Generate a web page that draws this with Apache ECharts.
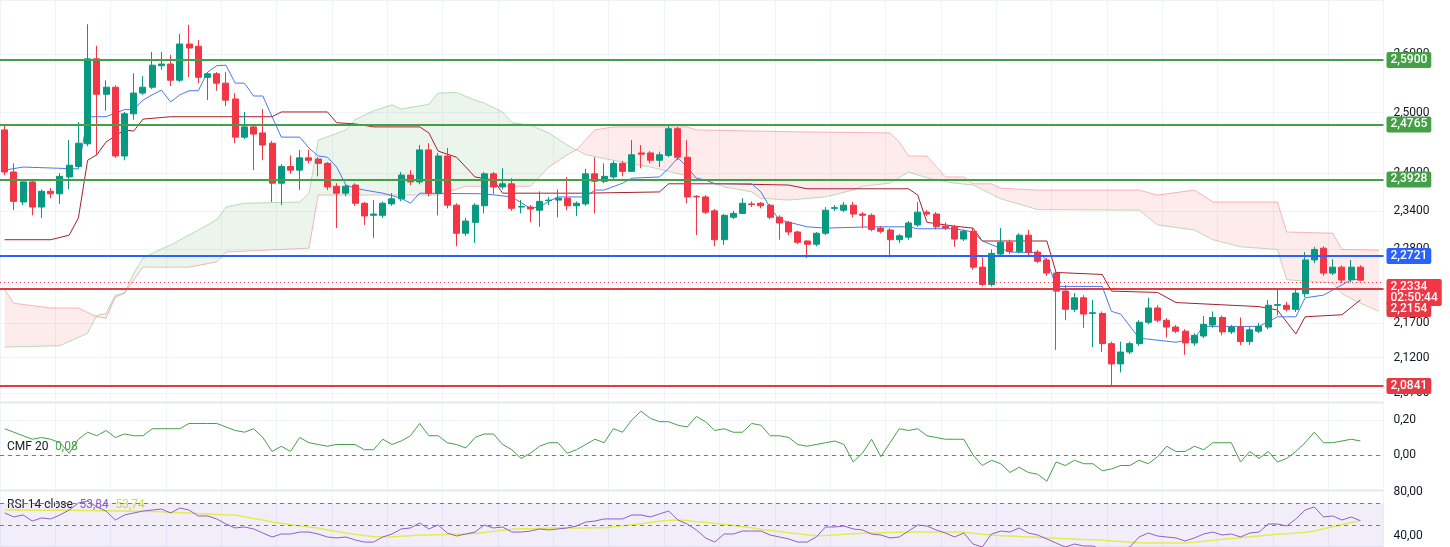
<!DOCTYPE html>
<html><head><meta charset="utf-8">
<script src="https://cdn.jsdelivr.net/npm/echarts@6/dist/echarts.min.js"></script>
<style>html,body{margin:0;padding:0;background:#fff}#c{width:1450px;height:547px}</style>
</head><body><div id="c"></div>
<script>
const openP=[2.471,2.402,2.354,2.386,2.346,2.371,2.367,2.394,2.411,2.448,2.592,2.531,2.543,2.428,2.498,2.533,2.543,2.580,2.583,2.555,2.618,2.614,2.560,2.566,2.550,2.523,2.459,2.476,2.466,2.449,2.384,2.411,2.405,2.425,2.423,2.416,2.379,2.368,2.381,2.352,2.333,2.333,2.351,2.359,2.397,2.386,2.438,2.368,2.428,2.349,2.305,2.322,2.348,2.399,2.378,2.383,2.346,2.346,2.341,2.356,2.357,2.360,2.348,2.351,2.399,2.387,2.394,2.416,2.403,2.433,2.433,2.421,2.429,2.473,2.426,2.363,2.362,2.340,2.295,2.330,2.336,2.351,2.352,2.349,2.330,2.322,2.307,2.293,2.288,2.305,2.344,2.341,2.349,2.335,2.333,2.313,2.310,2.295,2.299,2.318,2.338,2.335,2.316,2.315,2.296,2.308,2.253,2.227,2.273,2.291,2.277,2.302,2.276,2.264,2.244,2.217,2.190,2.207,2.184,2.184,2.140,2.111,2.128,2.140,2.171,2.192,2.174,2.164,2.158,2.141,2.151,2.167,2.178,2.157,2.164,2.143,2.158,2.164,2.196,2.196,2.190,2.213,2.264,2.282,2.244,2.253,2.234,2.253];
const closeP=[2.402,2.355,2.386,2.346,2.371,2.367,2.395,2.413,2.449,2.592,2.531,2.543,2.428,2.498,2.533,2.543,2.581,2.583,2.555,2.618,2.611,2.560,2.566,2.550,2.521,2.459,2.476,2.464,2.446,2.384,2.411,2.405,2.425,2.421,2.416,2.378,2.368,2.379,2.352,2.332,2.335,2.352,2.359,2.397,2.386,2.438,2.368,2.428,2.349,2.305,2.324,2.349,2.399,2.378,2.383,2.344,2.347,2.343,2.355,2.357,2.360,2.348,2.352,2.399,2.387,2.395,2.416,2.403,2.430,2.431,2.421,2.430,2.473,2.426,2.362,2.362,2.338,2.295,2.333,2.336,2.352,2.350,2.348,2.330,2.321,2.307,2.291,2.288,2.305,2.341,2.345,2.349,2.335,2.333,2.311,2.308,2.295,2.301,2.321,2.338,2.335,2.315,2.313,2.296,2.308,2.253,2.227,2.274,2.291,2.277,2.302,2.276,2.262,2.244,2.217,2.190,2.207,2.183,2.185,2.140,2.111,2.128,2.140,2.171,2.192,2.174,2.164,2.158,2.141,2.152,2.168,2.178,2.157,2.164,2.143,2.160,2.165,2.196,2.197,2.190,2.214,2.264,2.280,2.244,2.253,2.2335,2.253,2.2334];
const lowP=[2.397,2.341,2.349,2.333,2.329,2.360,2.351,2.374,2.408,2.444,2.429,2.503,2.425,2.421,2.488,2.530,2.540,2.573,2.545,2.552,2.560,2.550,2.521,2.537,2.511,2.449,2.456,2.405,2.421,2.354,2.349,2.399,2.373,2.416,2.395,2.373,2.313,2.363,2.348,2.318,2.298,2.329,2.348,2.355,2.381,2.382,2.363,2.333,2.344,2.285,2.301,2.290,2.336,2.367,2.374,2.340,2.336,2.322,2.315,2.349,2.330,2.341,2.332,2.348,2.336,2.384,2.391,2.395,2.402,2.408,2.416,2.410,2.426,2.421,2.352,2.302,2.335,2.285,2.287,2.327,2.335,2.346,2.344,2.327,2.295,2.302,2.288,2.267,2.285,2.302,2.340,2.338,2.330,2.313,2.308,2.305,2.268,2.290,2.295,2.315,2.332,2.311,2.310,2.284,2.293,2.249,2.224,2.224,2.270,2.273,2.274,2.271,2.259,2.240,2.131,2.174,2.186,2.163,2.135,2.128,2.081,2.099,2.125,2.137,2.168,2.171,2.149,2.155,2.124,2.137,2.148,2.163,2.152,2.154,2.138,2.138,2.155,2.161,2.181,2.187,2.186,2.208,2.259,2.240,2.241,2.229,2.230,2.232];
const highP=[2.479,2.416,2.389,2.391,2.374,2.376,2.400,2.454,2.484,2.653,2.615,2.555,2.546,2.501,2.567,2.562,2.604,2.604,2.599,2.636,2.652,2.625,2.569,2.569,2.569,2.533,2.501,2.479,2.506,2.453,2.415,2.429,2.438,2.438,2.426,2.418,2.384,2.382,2.384,2.354,2.357,2.355,2.368,2.402,2.405,2.446,2.449,2.433,2.441,2.352,2.329,2.352,2.402,2.402,2.408,2.392,2.357,2.349,2.371,2.362,2.374,2.394,2.355,2.407,2.426,2.416,2.420,2.420,2.454,2.446,2.436,2.435,2.479,2.476,2.454,2.365,2.365,2.343,2.335,2.340,2.360,2.355,2.354,2.351,2.333,2.324,2.309,2.294,2.307,2.346,2.349,2.354,2.354,2.338,2.336,2.316,2.313,2.304,2.324,2.354,2.341,2.338,2.322,2.318,2.311,2.313,2.268,2.280,2.313,2.295,2.305,2.310,2.279,2.267,2.247,2.226,2.214,2.211,2.204,2.187,2.143,2.143,2.143,2.174,2.207,2.196,2.177,2.167,2.161,2.155,2.180,2.187,2.181,2.167,2.178,2.164,2.170,2.204,2.221,2.201,2.221,2.276,2.284,2.285,2.265,2.256,2.264,2.256];
const tenkan=[[0,2.405],[2,2.410],[8,2.407],[9,2.493],[11,2.493],[13,2.505],[14,2.505],[15,2.521],[16,2.530],[17,2.538],[18,2.518],[19,2.530],[20,2.537],[21,2.537],[22,2.569],[23,2.580],[24,2.581],[25,2.550],[26,2.550],[27,2.528],[28,2.528],[29,2.493],[30,2.459],[32,2.459],[33,2.441],[34,2.428],[35,2.426],[36,2.410],[37,2.381],[38,2.376],[39,2.373],[41,2.368],[43,2.360],[44,2.352],[45,2.368],[52,2.367],[55,2.362],[57,2.344],[58,2.346],[59,2.355],[60,2.362],[63,2.362],[64,2.373],[65,2.373],[67,2.384],[68,2.392],[71,2.394],[72,2.408],[73,2.425],[74,2.410],[75,2.392],[76,2.389],[77,2.383],[81,2.383],[82,2.370],[83,2.345],[84,2.326],[87,2.315],[89,2.313],[94,2.315],[98,2.315],[99,2.312],[103,2.312],[105,2.307],[106,2.293],[109,2.276],[112,2.275],[113,2.264],[114,2.224],[119,2.224],[120,2.187],[121,2.183],[123,2.148],[127,2.142],[129,2.148],[130,2.165],[136,2.165],[138,2.179],[140,2.179],[141,2.207],[143,2.211],[146,2.234],[147,2.235]];
const kijun=[[0,2.295],[5,2.295],[7,2.302],[8,2.329],[9,2.421],[10,2.430],[11,2.451],[13,2.471],[14,2.469],[15,2.489],[18,2.493],[29,2.493],[30,2.501],[35,2.501],[36,2.483],[38,2.481],[40,2.476],[45,2.476],[46,2.466],[47,2.436],[49,2.426],[51,2.394],[53,2.389],[54,2.368],[63,2.368],[71,2.370],[72,2.383],[78,2.383],[85,2.381],[87,2.375],[98,2.375],[99,2.365],[100,2.322],[103,2.316],[105,2.313],[106,2.293],[113,2.293],[114,2.245],[119,2.242],[120,2.217],[125,2.215],[127,2.200],[136,2.194],[138,2.189],[140,2.154],[141,2.179],[145,2.182],[147,2.204]];
const spanA=[[0,2.135],[6,2.137],[9,2.155],[10,2.181],[11,2.184],[12,2.211],[13,2.214],[14,2.244],[15,2.267],[16,2.274],[18,2.287],[21,2.310],[23,2.326],[24,2.346],[26,2.352],[32,2.354],[33,2.368],[34,2.454],[37,2.471],[38,2.488],[40,2.503],[42,2.513],[43,2.506],[46,2.514],[47,2.533],[49,2.534],[51,2.521],[52,2.516],[54,2.501],[55,2.483],[57,2.479],[59,2.466],[61,2.446],[62,2.438],[63,2.430],[66,2.421],[70,2.410],[72,2.403],[75,2.392],[76,2.389],[78,2.378],[81,2.370],[82,2.360],[85,2.357],[89,2.362],[92,2.373],[93,2.379],[96,2.384],[98,2.402],[99,2.397],[101,2.389],[103,2.384],[105,2.381],[108,2.359],[112,2.342],[123,2.341],[125,2.318],[129,2.310],[131,2.295],[134,2.284],[138,2.280],[139,2.234],[144,2.229],[145,2.213],[147,2.199],[149,2.187]];
const spanB=[[0,2.219],[1,2.199],[5,2.192],[8,2.192],[10,2.179],[11,2.177],[12,2.208],[13,2.214],[15,2.253],[20,2.253],[23,2.261],[24,2.276],[33,2.282],[34,2.365],[47,2.365],[50,2.379],[57,2.379],[59,2.410],[61,2.430],[62,2.438],[64,2.471],[66,2.476],[74,2.476],[75,2.471],[85,2.468],[96,2.466],[97,2.451],[98,2.428],[100,2.428],[102,2.394],[104,2.394],[105,2.383],[107,2.383],[108,2.376],[112,2.373],[123,2.373],[125,2.365],[129,2.373],[131,2.354],[138,2.354],[139,2.307],[144,2.305],[145,2.280],[149,2.279]];
const cloudParts=[[0,13,0],[13,62,1],[62,149,0]];
const cmf=[0.15,0.13,0.11,0.09,0.10,0.09,0.07,0.01,0.09,0.13,0.11,0.14,0.10,0.12,0.11,0.11,0.15,0.15,0.15,0.15,0.18,0.18,0.18,0.18,0.16,0.14,0.13,0.15,0.10,0.02,0.05,0.02,0.10,0.07,0.06,0.05,0.06,0.06,0.06,0.03,0.03,0.09,0.06,0.08,0.11,0.18,0.11,0.11,0.07,0.06,0.04,0.10,0.12,0.12,0.06,0.03,-0.02,0.01,0.05,0.07,0.07,0.01,0.03,0.06,0.09,0.07,0.15,0.13,0.20,0.25,0.21,0.19,0.19,0.17,0.16,0.22,0.19,0.14,0.15,0.13,0.13,0.18,0.17,0.11,0.11,0.10,0.06,0.05,0.06,0.07,0.08,0.06,-0.04,0.01,0.09,-0.01,0.07,0.15,0.14,0.15,0.11,0.10,0.09,0.09,0.09,0.00,-0.06,-0.03,-0.05,-0.10,-0.07,-0.10,-0.11,-0.15,-0.04,-0.06,-0.03,-0.05,-0.05,-0.09,-0.08,-0.06,-0.06,-0.03,-0.05,-0.01,0.05,0.02,0.02,0.05,0.03,0.07,0.07,0.07,-0.04,0.02,-0.02,0.02,-0.04,-0.02,0.02,0.07,0.13,0.07,0.07,0.08,0.09,0.08];
const rsi=[60.9,57.3,59.1,53.6,56.4,55.5,59.1,63.6,70,71.8,66.4,62.7,54.5,59.1,60.9,62.7,63.6,64.5,60.9,65.5,63.6,58.2,58.2,55.5,50.9,47.3,48.2,46.4,42.7,39.1,41.8,41.8,43.6,43.6,41.8,39.1,38.2,39.1,36.4,34.5,34.5,39.1,41.8,46.4,47.3,51.8,46.4,50,42.7,40,41.8,43.6,50,47.3,48.2,43.6,43.6,44.5,46.4,45.5,46.4,47.3,49.1,52.7,53.6,55.5,55.5,55.5,59.1,59.1,57.3,60,62.7,54.5,50.9,45.5,38.2,34.5,41.8,41.8,44.5,44.5,44.5,40.9,39.1,37.3,34.5,34.5,39.1,48.2,48.2,49.1,46.4,45.5,41.8,40.9,38.2,39.1,44.5,50,49.1,45.5,42.7,39.1,42.7,32.7,30,41.8,44.5,43.6,47.3,42.7,40.9,37.3,33.6,30,32.7,30.9,30.9,27.3,26.4,28.2,30,39.1,42.7,40,39.1,38.2,35.5,38.2,41.8,43.6,40.9,41.8,39.1,42.7,43.6,50.9,50.9,49.1,55.5,63.6,66.4,57.3,58.2,54.5,57.3,53.84];
const rsiMa=[63.6,63.6,63.5,63.5,63.4,63.4,63.3,63.3,63.2,63.1,63.0,62.9,62.8,62.7,62.6,62.5,62.3,62.0,61.6,61.2,60.8,60.4,60.0,59.6,59.3,59.1,57.5,56,54.5,52.7,51.5,50.3,49.2,48.2,47.2,45.5,44,42.7,41.5,40.5,39.6,39.1,39.3,39.8,40.3,40.8,41,41.2,41.4,41.6,41.8,42.3,43.2,44.2,45.2,46.2,46.5,46.7,46.9,47.1,47.3,47.3,47.3,47.3,47.4,47.5,48.3,49.2,50.2,51.2,52.2,53.3,54.2,54.5,54,53,52.5,51.5,50.5,49.5,48.5,47.5,46,45,44,43,42,41.2,40.3,40.5,41,41.5,42,42.5,42.7,42.9,43.1,43.3,43.5,43.6,43.6,43.6,43.6,43.6,43.5,42.5,41.5,40.8,40.2,39.9,39.5,39.2,38.8,38.3,38,37.6,37.2,36.8,36.5,36.1,35.5,34.9,34.3,33.8,33.6,33.6,33.6,33.6,33.8,34.4,35.3,36.2,37,37.8,38.5,39.3,40.1,40.9,41.5,42.1,42.8,43.5,44.5,46.5,48.5,50.5,52.3,53.74];
const priceTicks=[2.07,2.12,2.17,2.28,2.34,2.4,2.5,2.6];
const cmfTicks=[0,0.2];
const rsiTicks=[40,80];
const levels=[{v:2.59,t:'2,5900',c:'#43a047'},{v:2.4765,t:'2,4765',c:'#43a047'},{v:2.3928,t:'2,3928',c:'#43a047'},{v:2.2721,t:'2,2721',c:'#2962ff'},{v:2.2154,t:'2,2154',c:'#e53945',off:20},{v:2.0841,t:'2,0841',c:'#e53945'}];
const lastPrice=2.2334, timer='02:50:44';
const cmfLast='0,08', rsiLast='53,84', rsiMaLast='53,74';

const N=150;
const cats=[];for(let i=0;i<N;i++)cats.push(String(i));
const candles=openP.map((o,i)=>[o,closeP[i],lowP[i],highP[i]]);
const fmt=v=>v.toFixed(4).replace('.',',');
const fmt2=v=>v.toFixed(2).replace('.',',');
const grids=[{left:-4,width:1387.5,top:0,height:402},{left:-4,width:1387.5,top:403,height:87},{left:-4,width:1387.5,top:491,height:56}];
const xAx=i=>({type:'category',data:cats,gridIndex:i,boundaryGap:true,axisLine:{show:false},axisTick:{show:false},axisLabel:{show:false},splitLine:{show:true,interval:5,lineStyle:{color:'#f0f3fa'}}});
const lab={color:'#131722',fontSize:12,fontFamily:'Roboto, sans-serif',margin:10};
const chart=echarts.init(document.getElementById('c'),null,{renderer:'canvas'});
function cloudRender(params,api){
  const s=api.value(0),e=api.value(1),g=api.value(2);
  const a=spanA.filter(p=>p[0]>=s&&p[0]<=e).map(p=>api.coord(p));
  const b=spanB.filter(p=>p[0]>=s&&p[0]<=e).map(p=>api.coord(p)).reverse();
  return {type:'polygon',shape:{points:a.concat(b)},style:{fill:g?'rgba(67,160,71,0.1)':'rgba(242,54,69,0.1)'},silent:true};
}
const ml=[{yAxis:lastPrice,lineStyle:{color:'#f23645',width:1,type:[1,3]},label:{formatter:fmt(lastPrice)+'\n'+timer,backgroundColor:'#f23645',offset:[0,10],lineHeight:11.5,padding:[2,4]}}];
levels.forEach(l=>ml.push({yAxis:l.v,lineStyle:{color:l.c,width:2,type:'solid'},label:{formatter:l.t,backgroundColor:l.c,offset:[0,l.off||0]}}));
chart.setOption({
  animation:false,
  grid:grids.map((g,i)=>Object.assign({show:true,borderColor:'#e0e3eb',borderWidth:1,backgroundColor:'transparent'},g)),
  xAxis:[xAx(0),xAx(1),xAx(2)],
  yAxis:[
    {type:'log',logBase:10,gridIndex:0,min:2.0576,max:2.6967,position:'right',axisLine:{show:false},axisTick:{show:false,customValues:priceTicks},axisLabel:Object.assign({customValues:priceTicks,formatter:v=>fmt(v)},lab),splitLine:{show:true,lineStyle:{color:'#f0f3fa'}}},
    {type:'value',gridIndex:1,min:-0.2,max:0.297,position:'right',axisLine:{show:false},axisTick:{show:false,customValues:cmfTicks},axisLabel:Object.assign({customValues:cmfTicks,formatter:v=>fmt2(v)},lab),splitLine:{show:true,lineStyle:{color:'#f0f3fa'}}},
    {type:'value',gridIndex:2,min:30,max:80.9,position:'right',axisLine:{show:false},axisTick:{show:false,customValues:rsiTicks},axisLabel:Object.assign({customValues:rsiTicks,formatter:v=>fmt2(v)},lab),splitLine:{show:false}}
  ],
  series:[
    {type:'custom',xAxisIndex:0,yAxisIndex:0,renderItem:cloudRender,data:cloudParts,encode:{x:0,y:-1},z:1,silent:true,clip:true},
    {type:'line',data:spanA,xAxisIndex:0,yAxisIndex:0,showSymbol:false,lineStyle:{color:'rgba(67,160,71,0.35)',width:1},z:2,silent:true},
    {type:'line',data:spanB,xAxisIndex:0,yAxisIndex:0,showSymbol:false,lineStyle:{color:'rgba(242,54,69,0.35)',width:1},z:2,silent:true},
    {type:'line',data:kijun,xAxisIndex:0,yAxisIndex:0,showSymbol:false,lineStyle:{color:'#a3212a',width:1},z:3,silent:true},
    {type:'line',data:tenkan,xAxisIndex:0,yAxisIndex:0,showSymbol:false,lineStyle:{color:'#4a78ec',width:1},z:3,silent:true},
    {type:'candlestick',data:candles,xAxisIndex:0,yAxisIndex:0,barWidth:6.5,z:4,
      itemStyle:{color:'#089981',color0:'#f23645',borderColor:'#089981',borderColor0:'#f23645',borderWidth:1},
      markLine:{silent:true,symbol:'none',z:6,label:{position:'end',distance:3,color:'#fff',fontSize:12,fontFamily:'Roboto, sans-serif',fontWeight:500,padding:[2,4],borderRadius:2},data:ml}},
    {type:'line',data:cmf,xAxisIndex:1,yAxisIndex:1,showSymbol:false,lineStyle:{color:'#43a047',width:1},silent:true,
      markLine:{silent:true,symbol:'none',label:{show:false},lineStyle:{color:'#787b86',type:[4,4],width:1},data:[{yAxis:0}]}},
    {type:'line',data:rsiMa,xAxisIndex:2,yAxisIndex:2,showSymbol:false,lineStyle:{color:'#e3ec4f',width:1.5},silent:true},
    {type:'line',data:rsi,xAxisIndex:2,yAxisIndex:2,showSymbol:false,lineStyle:{color:'#8e5fc9',width:1},silent:true,
      markArea:{silent:true,itemStyle:{color:'rgba(126,87,194,0.1)'},data:[[{yAxis:30},{yAxis:70}]]},
      markLine:{silent:true,symbol:'none',label:{show:false},lineStyle:{color:'#787b86',type:[4,4],width:1},data:[{yAxis:70},{yAxis:50}]}}
  ],
  graphic:[
    {type:'text',left:7,top:441,style:{text:'{a|CMF 20}  {b|'+cmfLast+'}',rich:{a:{fill:'#131722',fontSize:12,fontFamily:'Roboto, sans-serif'},b:{fill:'#43a047',fontSize:12,fontFamily:'Roboto, sans-serif'}}}},
    {type:'text',left:7,top:499,style:{text:'{a|RSI 14 close}  {b|'+rsiLast+'}  {c|'+rsiMaLast+'}',backgroundColor:'rgba(255,255,255,0.6)',rich:{a:{fill:'#131722',fontSize:12,fontFamily:'Roboto, sans-serif'},b:{fill:'#8e5fc9',fontSize:12,fontFamily:'Roboto, sans-serif'},c:{fill:'#d7df3c',fontSize:12,fontFamily:'Roboto, sans-serif'}}}}
  ]
});
</script></body></html>
